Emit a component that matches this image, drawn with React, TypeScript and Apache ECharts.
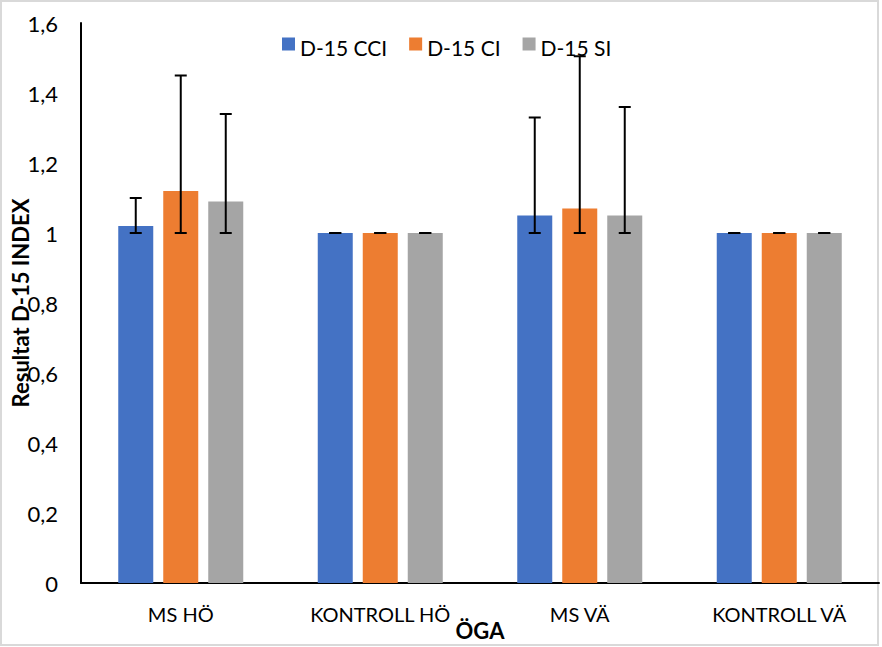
import React, { useEffect, useRef } from "react";
import * as echarts from "echarts";

const categories = ["MS HÖ", "KONTROLL HÖ", "MS VÄ", "KONTROLL VÄ"];
const seriesNames = ["D-15 CCI", "D-15 CI", "D-15 SI"];
const cciValues = [1.02, 1.0, 1.05, 1.0];
const ciValues = [1.12, 1.0, 1.07, 1.0];
const siValues = [1.09, 1.0, 1.05, 1.0];
const cciErrLow = [1.0, 1.0, 1.0, 1.0];
const cciErrHigh = [1.1, 1.0, 1.33, 1.0];
const ciErrLow = [1.0, 1.0, 1.0, 1.0];
const ciErrHigh = [1.45, 1.0, 1.505, 1.0];
const siErrLow = [1.0, 1.0, 1.0, 1.0];
const siErrHigh = [1.34, 1.0, 1.36, 1.0];
const yTicks = [0, 0.2, 0.4, 0.6, 0.8, 1.0, 1.2, 1.4, 1.6];

const colors = ["#4472C4", "#ED7D31", "#A5A5A5"];
const FONT = "Lato";
const BAR_W = 35;
const BAR_GAP = 10;

export default function App() {
  const ref = useRef<HTMLDivElement>(null);
  useEffect(() => {
    document.body.style.margin = "0";
    const chart = echarts.init(ref.current!, null, { renderer: "svg" });
    const values = [cciValues, ciValues, siValues];
    const lows = [cciErrLow, ciErrLow, siErrLow];
    const highs = [cciErrHigh, ciErrHigh, siErrHigh];

    const barSeries = seriesNames.map((name, i) => ({
      name,
      type: "bar",
      data: values[i],
      barWidth: BAR_W,
      barGap: (BAR_GAP / BAR_W) * 100 + "%",
      itemStyle: { color: colors[i] },
    }));

    const errSeries = seriesNames.map((name, i) => ({
      name: name + " err",
      type: "custom",
      z: 10,
      data: categories.map((_, k) => [k, lows[i][k], highs[i][k]]),
      encode: { x: 0, y: [1, 2] },
      renderItem: (params: any, api: any) => {
        const k = api.value(0);
        const lo = api.coord([k, api.value(1)]);
        const hi = api.coord([k, api.value(2)]);
        const x = lo[0] + (i - 1) * (BAR_W + BAR_GAP);
        const cap = 6;
        const style = { stroke: "#000", lineWidth: 2 };
        return {
          type: "group",
          children: [
            { type: "line", shape: { x1: x, y1: lo[1], x2: x, y2: hi[1] }, style },
            { type: "line", shape: { x1: x - cap, y1: hi[1], x2: x + cap, y2: hi[1] }, style },
            { type: "line", shape: { x1: x - cap, y1: lo[1], x2: x + cap, y2: lo[1] }, style },
          ],
        };
      },
    }));

    chart.setOption({
      animation: false,
      textStyle: { fontFamily: FONT },
      graphic: [
        {
          type: "rect",
          shape: { x: 1, y: 1, width: 877, height: 644 },
          style: { fill: "none", stroke: "#D9D9D9", lineWidth: 2 },
          silent: true,
        },
      ],
      legend: {
        data: seriesNames,
        left: 277,
        top: 32,
        itemWidth: 13,
        itemHeight: 20,
        itemGap: 22,
        icon: "path://M0,0L13,0L13,13L0,13Z M0,20L0.01,20",
        textStyle: { fontFamily: FONT, fontSize: 21, color: "#000" },
      },
      grid: { left: 81, right: 3, top: 23, bottom: 64, containLabel: false, outerBoundsMode: "none" },
      xAxis: {
        type: "category",
        data: categories,
        name: "ÖGA",
        nameLocation: "middle",
        nameGap: 36,
        nameMoveOverlap: false,
        nameTextStyle: { fontFamily: FONT, fontSize: 22, fontWeight: "bold", color: "#000" },
        axisLine: { lineStyle: { color: "#000", width: 2 } },
        axisTick: { show: false },
        axisLabel: { fontFamily: FONT, fontSize: 20, color: "#000", margin: 21 },
      },
      yAxis: {
        type: "value",
        min: 0,
        max: 1.6,
        interval: 0.2,
        name: "Resultat D-15 INDEX",
        nameLocation: "middle",
        nameGap: 50,
        nameMoveOverlap: false,
        nameTextStyle: { fontFamily: FONT, fontSize: 22, fontWeight: "bold", color: "#000" },
        axisLine: { show: true, lineStyle: { color: "#000", width: 2 } },
        axisTick: { show: false },
        splitLine: { show: false },
        axisLabel: {
          fontFamily: FONT,
          fontSize: 22,
          color: "#000",
          margin: 23,
          formatter: (v: number) => {
            const t = yTicks.find((y) => Math.abs(y - v) < 1e-6);
            const val = t === undefined ? v : t;
            return String(Math.round(val * 10) / 10).replace(".", ",");
          },
        },
      },
      series: [...barSeries, ...errSeries],
    });
    return () => chart.dispose();
  }, []);
  return <div ref={ref} style={{ width: 882, height: 647 }} />;
}
